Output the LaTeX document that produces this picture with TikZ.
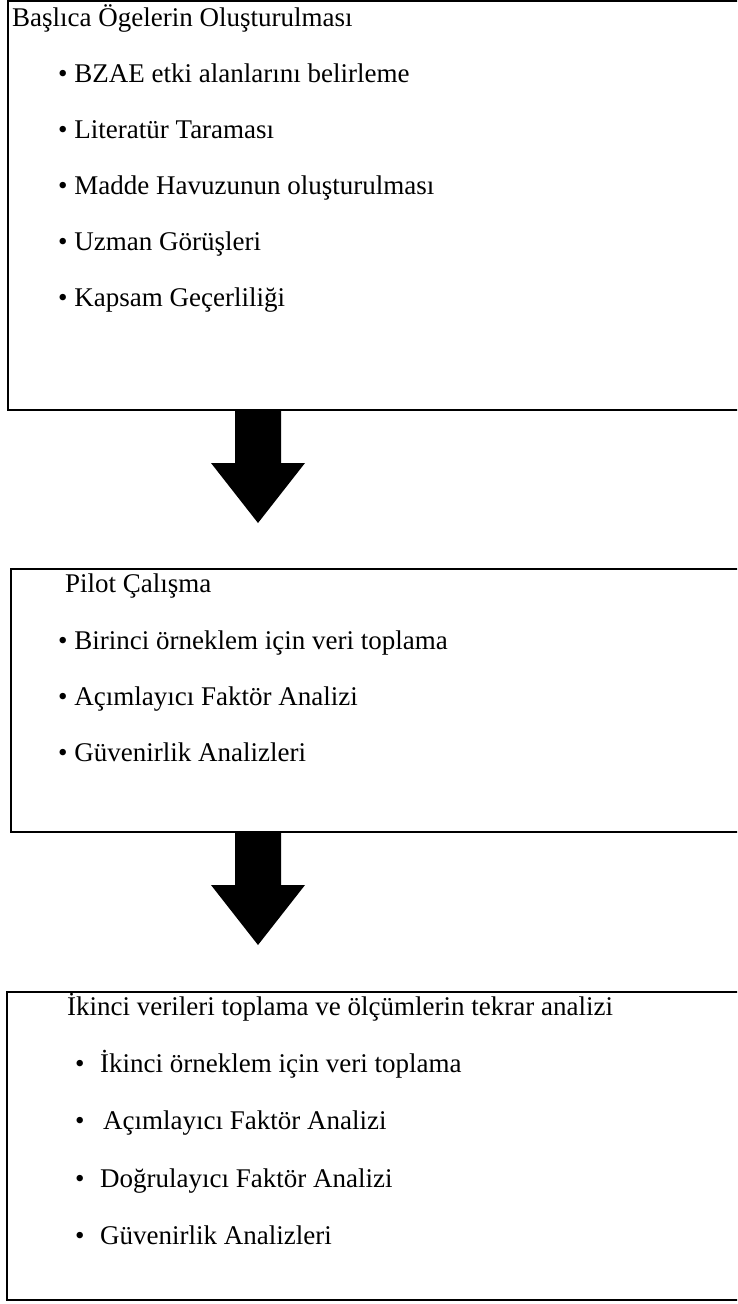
\documentclass[tikz,border=0pt]{standalone}
\usepackage{fontspec}
\setmainfont{Liberation Serif}
\usepackage{tikz}
\usetikzlibrary{positioning}
\usetikzlibrary{calc}

\begin{document}
\begin{tikzpicture}[x=1pt, y=-1pt,
  box/.style={draw, line width=2.5pt, minimum width=780pt, inner sep=0pt, outer sep=0pt, anchor=north west},
  item/.style={anchor=base west, inner sep=0pt, font=\fontsize{27}{32}\selectfont}]
\useasboundingbox (0,0) rectangle (737,1304);
\clip (0,0) rectangle (737,1304);

\node[box, minimum height=409pt] at (8,1) (box1) {};
\node[box, minimum height=263pt] at (11,569) (box2) {};
\node[box, minimum height=308pt] at (7,992) (box3) {};

\node[item] at (12,26) (t1) {Başlıca Ögelerin Oluşturulması};
\foreach \t [count=\i] in {BZAE etki alanlarını belirleme, Literatür Taraması,
    Madde Havuzunun oluşturulması, Uzman Görüşleri, Kapsam Geçerliliği}
  \node[item] at (58,26+56*\i) (b1-\i) {• \t};

\node[item] at (65,592) (t2) {Pilot Çalışma};
\foreach \t [count=\i] in {Birinci örneklem için veri toplama,
    Açımlayıcı Faktör Analizi, Güvenirlik Analizleri}
  \node[item] at (58,593+56*\i) (b2-\i) {• \t};

\node[item] at (67,1015) (t3) {İkinci verileri toplama ve ölçümlerin tekrar analizi};
\foreach \dx/\t [count=\i] in {0/İkinci örneklem için veri toplama,
    3/Açımlayıcı Faktör Analizi, 0/Doğrulayıcı Faktör Analizi, 0/Güvenirlik Analizleri}
  \node[item] at (75,1014.5+57.5*\i) (b3-\i) {\makebox[\dimexpr25pt+\dx pt\relax][l]{•}\t};

% block arrows between the boxes
\coordinate (ctr) at (258,0);
\foreach \b in {box1, box2}
  \fill (\b.south -| ctr) +(-23,0) -- +(23,0) -- +(23,53) -- +(47,53)
    -- +(0,113) -- +(-47,53) -- +(-23,53) -- cycle;

\end{tikzpicture}
\end{document}
